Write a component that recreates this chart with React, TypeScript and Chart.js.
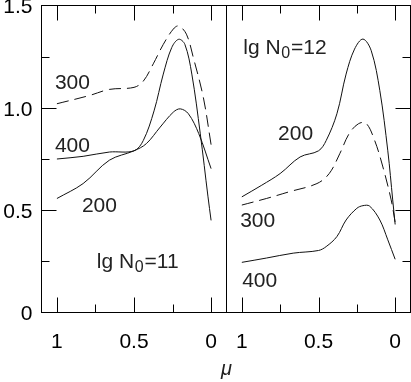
import React, { useEffect, useRef } from 'react';
import { Chart, registerables } from 'chart.js';

Chart.register(...registerables);

// axis ticks
const xTickValues = [1, 0.5, 0];
const xTickLabels = ['1', '0.5', '0'];
const xMinorValues = [0.75, 0.25];
const yTickValues = [0, 0.5, 1.0, 1.5];
const yTickLabels = ['0', '0.5', '1.0', '1.5'];
const yMinorValues = [0.25, 0.75, 1.25];

// left panel: lg N0 = 11
const muL300 = [1.0, 0.79, 0.66, 0.5, 0.44, 0.375, 0.31, 0.245, 0.21, 0.16, 0.115, 0.05, 0.0];
const valL300 = [1.02, 1.06, 1.09, 1.1, 1.13, 1.215, 1.31, 1.385, 1.4, 1.36, 1.245, 1.05, 0.82];
const muL400 = [1.0, 0.83, 0.66, 0.5, 0.44, 0.37, 0.31, 0.255, 0.21, 0.17, 0.125, 0.07, 0.02, 0.0];
const valL400 = [0.75, 0.763, 0.784, 0.79, 0.84, 0.985, 1.165, 1.295, 1.335, 1.31, 1.165, 0.873, 0.565, 0.45];
const muL200 = [1.0, 0.83, 0.66, 0.5, 0.42, 0.33, 0.245, 0.2, 0.147, 0.08, 0.0];
const valL200 = [0.557, 0.63, 0.744, 0.79, 0.825, 0.906, 0.979, 0.995, 0.971, 0.874, 0.703];

// right panel: lg N0 = 12
const muR200 = [1.0, 0.87, 0.75, 0.62, 0.5, 0.45, 0.38, 0.32, 0.265, 0.21, 0.156, 0.1, 0.048, 0.016, 0.0];
const valR200 = [0.565, 0.622, 0.679, 0.76, 0.79, 0.84, 0.971, 1.165, 1.287, 1.336, 1.279, 1.084, 0.79, 0.55, 0.43];
const muR300 = [1.0, 0.84, 0.69, 0.51, 0.43, 0.36, 0.3, 0.24, 0.19, 0.134, 0.08, 0.026, 0.0];
const valR300 = [0.525, 0.557, 0.59, 0.63, 0.679, 0.778, 0.874, 0.922, 0.925, 0.841, 0.711, 0.55, 0.44];
const muR400 = [1.0, 0.84, 0.665, 0.5, 0.45, 0.38, 0.32, 0.25, 0.21, 0.167, 0.1, 0.048, 0.0];
const valR400 = [0.245, 0.266, 0.29, 0.303, 0.322, 0.371, 0.452, 0.509, 0.522, 0.52, 0.452, 0.355, 0.26];

// curve annotations: [main text, subscript, trailing text], left edge (mu) and baseline (value)
type Lbl = { parts: [string, string, string]; mu: number; v: number };

const labelsLeft: Lbl[] = [
  { parts: ['300', '', ''], mu: 1.013, v: 1.094 },
  { parts: ['400', '', ''], mu: 1.013, v: 0.783 },
  { parts: ['200', '', ''], mu: 0.838, v: 0.491 },
  { parts: ['lg N', '0', '=11'], mu: 0.741, v: 0.217 },
];
const labelsRight: Lbl[] = [
  { parts: ['lg N', '0', '=12'], mu: 0.99, v: 1.263 },
  { parts: ['200', '', ''], mu: 0.764, v: 0.841 },
  { parts: ['300', '', ''], mu: 1.011, v: 0.418 },
  { parts: ['400', '', ''], mu: 0.998, v: 0.126 },
];

const FONT = '"Liberation Sans", Arial, sans-serif';

const pts = (mu: number[], v: number[]) => mu.map((m, i) => ({ x: m, y: v[i] }));

const ds = (mu: number[], v: number[], dashed: boolean) => ({
  data: pts(mu, v),
  borderColor: '#111',
  borderWidth: 1,
  borderDash: dashed ? [12, 6] : [],
  pointRadius: 0,
  tension: 0.35,
  fill: false,
});

function makePlugin(labels: Lbl[], ySide: 'left' | 'right') {
  return {
    id: 'frameTicks',
    afterDraw(chart: any) {
      const { ctx, chartArea: a, scales } = chart;
      const x = scales.x;
      const y = scales.y;
      ctx.save();
      ctx.strokeStyle = '#000';
      ctx.lineWidth = 1;
      ctx.setLineDash([]);
      ctx.strokeRect(a.left, a.top, a.right - a.left, a.bottom - a.top);
      const seg = (x1: number, y1: number, x2: number, y2: number) => {
        ctx.beginPath();
        ctx.moveTo(x1, y1);
        ctx.lineTo(x2, y2);
        ctx.stroke();
      };
      for (const v of [...xTickValues, ...xMinorValues]) {
        const px = Math.round(x.getPixelForValue(v)) + 0.5;
        const len = xTickValues.includes(v) ? 15 : 8;
        seg(px, a.bottom, px, a.bottom - len);
        seg(px, a.top, px, a.top + len);
      }
      for (const v of [0.5, 1.0, ...yMinorValues]) {
        const py = Math.round(y.getPixelForValue(v)) + 0.5;
        const len = v === 0.5 || v === 1.0 ? 15 : 8;
        if (ySide === 'left') seg(a.left, py, a.left + len, py);
        else seg(a.right, py, a.right - len, py);
      }
      ctx.fillStyle = '#222';
      ctx.textBaseline = 'alphabetic';
      ctx.textAlign = 'left';
      const big = '21px ' + FONT;
      const small = '16px ' + FONT;
      for (const l of labels) {
        const [p0, sub, p2] = l.parts;
        let px = x.getPixelForValue(l.mu);
        const py = y.getPixelForValue(l.v);
        ctx.font = big;
        ctx.fillText(p0, px, py);
        px += ctx.measureText(p0).width;
        if (sub) {
          ctx.font = small;
          ctx.fillText(sub, px + 0.5, py + 4);
          px += ctx.measureText(sub).width + 1.5;
          ctx.font = big;
        }
        if (p2) ctx.fillText(p2, px, py);
      }
      ctx.restore();
    },
  };
}

function buildConfig(datasets: any[], labels: Lbl[], isLeft: boolean): any {
  return {
    type: 'line',
    data: { datasets },
    options: {
      animation: false,
      responsive: false,
      events: [],
      layout: {
        padding: isLeft
          ? { top: 5.5, right: 1.5, bottom: 0, left: 0 }
          : { top: 5.5, right: 0.5, bottom: 0, left: 0.5 },
      },
      plugins: { legend: { display: false }, tooltip: { enabled: false } },
      scales: {
        x: {
          type: 'linear',
          min: -0.1,
          max: 1.1,
          reverse: true,
          grid: { display: false, drawTicks: false },
          border: { display: false },
          afterBuildTicks: (s: any) => {
            s.ticks = xTickValues.map((v) => ({ value: v }));
          },
          afterFit: (s: any) => {
            s.height = 69.5;
            s.paddingLeft = 0;
            s.paddingRight = 0;
            s.paddingTop = 0;
            s.paddingBottom = 0;
          },
          ticks: {
            autoSkip: false,
            maxRotation: 0,
            padding: 17,
            color: '#000',
            font: { family: FONT, size: 21 },
            callback: (v: number) => xTickLabels[xTickValues.indexOf(v)] ?? '',
          },
        },
        y: {
          type: 'linear',
          display: isLeft,
          min: 0,
          max: 1.5,
          grid: { display: false, drawTicks: false },
          border: { display: false },
          afterBuildTicks: (s: any) => {
            s.ticks = yTickValues.map((v) => ({ value: v }));
          },
          afterFit: (s: any) => {
            s.width = isLeft ? 41.5 : 0;
            s.paddingLeft = 0;
            s.paddingRight = 0;
            s.paddingTop = 0;
            s.paddingBottom = 0;
          },
          ticks: {
            padding: 9,
            labelOffset: 2,
            color: '#000',
            font: { family: FONT, size: 21 },
            callback: (v: number) => yTickLabels[yTickValues.indexOf(v)] ?? '',
          },
        },
      },
    },
    plugins: [makePlugin(labels, isLeft ? 'left' : 'right')],
  };
}

export default function App() {
  const leftRef = useRef<HTMLCanvasElement>(null);
  const rightRef = useRef<HTMLCanvasElement>(null);

  useEffect(() => {
    const left = new Chart(
      leftRef.current!,
      buildConfig(
        [ds(muL300, valL300, true), ds(muL400, valL400, false), ds(muL200, valL200, false)],
        labelsLeft,
        true
      )
    );
    const right = new Chart(
      rightRef.current!,
      buildConfig(
        [ds(muR200, valR200, false), ds(muR300, valR300, true), ds(muR400, valR400, false)],
        labelsRight,
        false
      )
    );
    return () => {
      left.destroy();
      right.destroy();
    };
  }, []);

  return (
    <div style={{ position: 'fixed', left: 0, top: 0, width: 411, height: 382, background: '#fff' }}>
      <canvas ref={leftRef} width={228} height={382} style={{ position: 'absolute', left: 0, top: 0 }} />
      <canvas ref={rightRef} width={185} height={382} style={{ position: 'absolute', left: 226, top: 0 }} />
      <div
        style={{
          position: 'absolute',
          left: 206.5,
          width: 40,
          top: 357,
          textAlign: 'center',
          fontFamily: FONT,
          fontStyle: 'italic',
          fontSize: 20,
          color: '#222',
        }}
      >
        μ
      </div>
    </div>
  );
}
